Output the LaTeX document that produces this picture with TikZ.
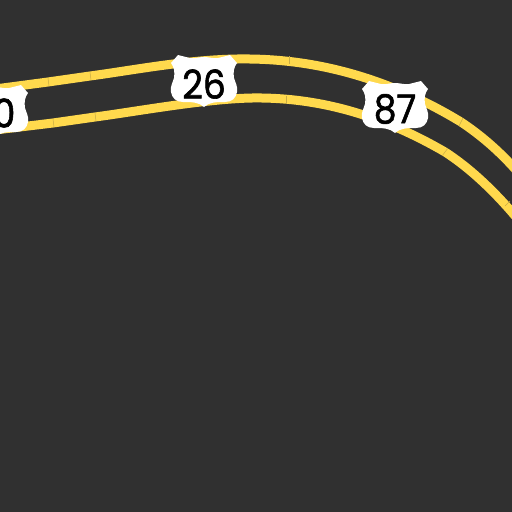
\documentclass[tikz,border=0pt]{standalone}
\usepackage{fontspec}
\setmainfont{Poppins}[BoldFont=*,BoldFeatures={FakeBold=1.6}]
\definecolor{ground}{HTML}{303030}
\definecolor{road}{HTML}{FFD94D}
\definecolor{seam}{HTML}{C9AC45}
\tikzset{
  roadline/.style={draw=road,line width=9pt},
  seamline/.style={draw=seam,line width=0.5pt},
  numlabel/.style={inner sep=0pt,font=\fontsize{36}{36}\selectfont\bfseries,text=black,yscale=1.1},
  pics/shieldmark/.style={code={
    \fill[white] (0,-24) .. controls (6,-24) and (10,-22) .. (14,-23)
      .. controls (18,-24) and (22,-25) .. (26,-26)
      -- (33,-18) .. controls (30,-14) and (29,-9) .. (30,-3)
      .. controls (31,1) and (34,5) .. (33,11)
      .. controls (32,17) and (28,21) .. (21,21)
      .. controls (13,21) and (5,21) .. (0,26)
      .. controls (-5,21) and (-13,21) .. (-21,21)
      .. controls (-28,21) and (-32,17) .. (-33,11)
      .. controls (-34,5) and (-31,1) .. (-30,-3)
      .. controls (-29,-9) and (-30,-14) .. (-33,-18)
      -- (-26,-26) .. controls (-22,-25) and (-18,-24) .. (-14,-23)
      .. controls (-10,-22) and (-6,-24) .. (0,-24) -- cycle;
  }}
}
\begin{document}
\begin{tikzpicture}[x=1pt,y=-1pt]
\useasboundingbox (0,0) rectangle (512,512);
\fill[ground] (0,0) rectangle (512,512);
\clip (0,0) rectangle (512,512);
% upper carriageway
\draw[roadline] (-5,89) -- (48,82) -- (90,76)
  .. controls (135,70) and (195,58) .. (250,59)
  .. controls (330,60) and (400,85) .. (461,122)
  .. controls (482,136) and (500,152) .. (516,170);
% lower carriageway
\draw[roadline] (-5,130) -- (53,123) -- (95,117)
  .. controls (140,111) and (215,97) .. (262,98)
  .. controls (330,99) and (390,120) .. (445,152)
  .. controls (470,168) and (495,192) .. (516,217);
% joints
\draw[seamline] (48,78) -- (49,86);
\draw[seamline] (90,72) -- (91,80);
\draw[seamline] (289,56) -- (289,64);
\draw[seamline] (459,126) -- (463,118);
\draw[seamline] (53,119) -- (54,127);
\draw[seamline] (95,113) -- (96,121);
\draw[seamline] (286,96) -- (286,104);
\draw[seamline] (442,156) -- (448,148);
\draw[seamline] (505,206) -- (510,201);
% shields
\pic at (-5,111) {shieldmark};
\pic at (204,81) {shieldmark};
\pic at (395,107) {shieldmark};
\node[numlabel] (zero) at (4,113) {0};
\node[numlabel] (a) at (204,84) {26};
\node[numlabel] (b) at (395,109) {87};
\end{tikzpicture}
\end{document}
